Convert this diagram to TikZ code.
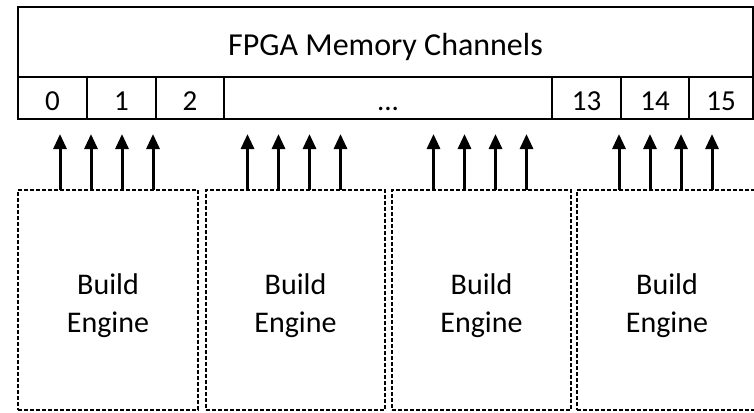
\documentclass[tikz,border=0pt]{standalone}
\usepackage{fontspec}
\setmainfont{Carlito}
\usetikzlibrary{arrows.meta,positioning}

\begin{document}
\begin{tikzpicture}[x=1pt,y=-1pt,
  chan/.style={draw,line width=1.8pt,outer sep=0pt,inner sep=0pt,minimum height=42pt,
    text height=24pt,text depth=0pt,font=\fontsize{29}{34}\selectfont},
  engine/.style={draw,line width=1.4pt,dash pattern=on 4pt off 2pt,outer sep=0pt,inner sep=0pt,
    minimum height=220pt,align=center,font=\fontsize{30}{38}\selectfont},
  link/.style={line width=3pt,-{Triangle[width=13pt,length=15pt]},shorten >=15pt}]
  \clip (0,0) rectangle (754,412);
  % memory channels
  \node[chan,minimum width=735pt,minimum height=70pt,text height=27.6pt,
    font=\fontsize{32}{36}\selectfont] (mem) at (385.5,42) {FPGA Memory Channels};
  \node[chan,minimum width=69pt,below right=0pt and 0pt of mem.south west] (ch0) {0};
  \node[chan,minimum width=69pt,right=0pt of ch0] (ch1) {1};
  \node[chan,minimum width=68pt,right=0pt of ch1] (ch2) {2};
  \node[chan,minimum width=328pt,right=0pt of ch2] (dots) {...};
  \node[chan,minimum width=69pt,right=0pt of dots] (ch13) {13};
  \node[chan,minimum width=68pt,right=0pt of ch13] (ch14) {14};
  \node[chan,minimum width=64pt,right=0pt of ch14] (ch15) {15};
  % build engines
  \node[engine,minimum width=180pt] (be1) at (108,300) {\rule{0pt}{33pt}Build\\Engine};
  \node[engine,minimum width=179pt] (be2) at (295.5,300) {\rule{0pt}{33pt}Build\\Engine};
  \node[engine,minimum width=179pt] (be3) at (481.5,300) {\rule{0pt}{33pt}Build\\Engine};
  \node[engine,minimum width=180pt] (be4) at (667,300) {\rule{0pt}{33pt}Build\\Engine};
  % four ports per engine
  \foreach \e in {1,...,4}
    \foreach \dx in {-48,-17,14,45}
      \draw[link] ([xshift=\dx pt]be\e.north) -- ([xshift=\dx pt]be\e.north |- ch0.south);
\end{tikzpicture}
\end{document}
